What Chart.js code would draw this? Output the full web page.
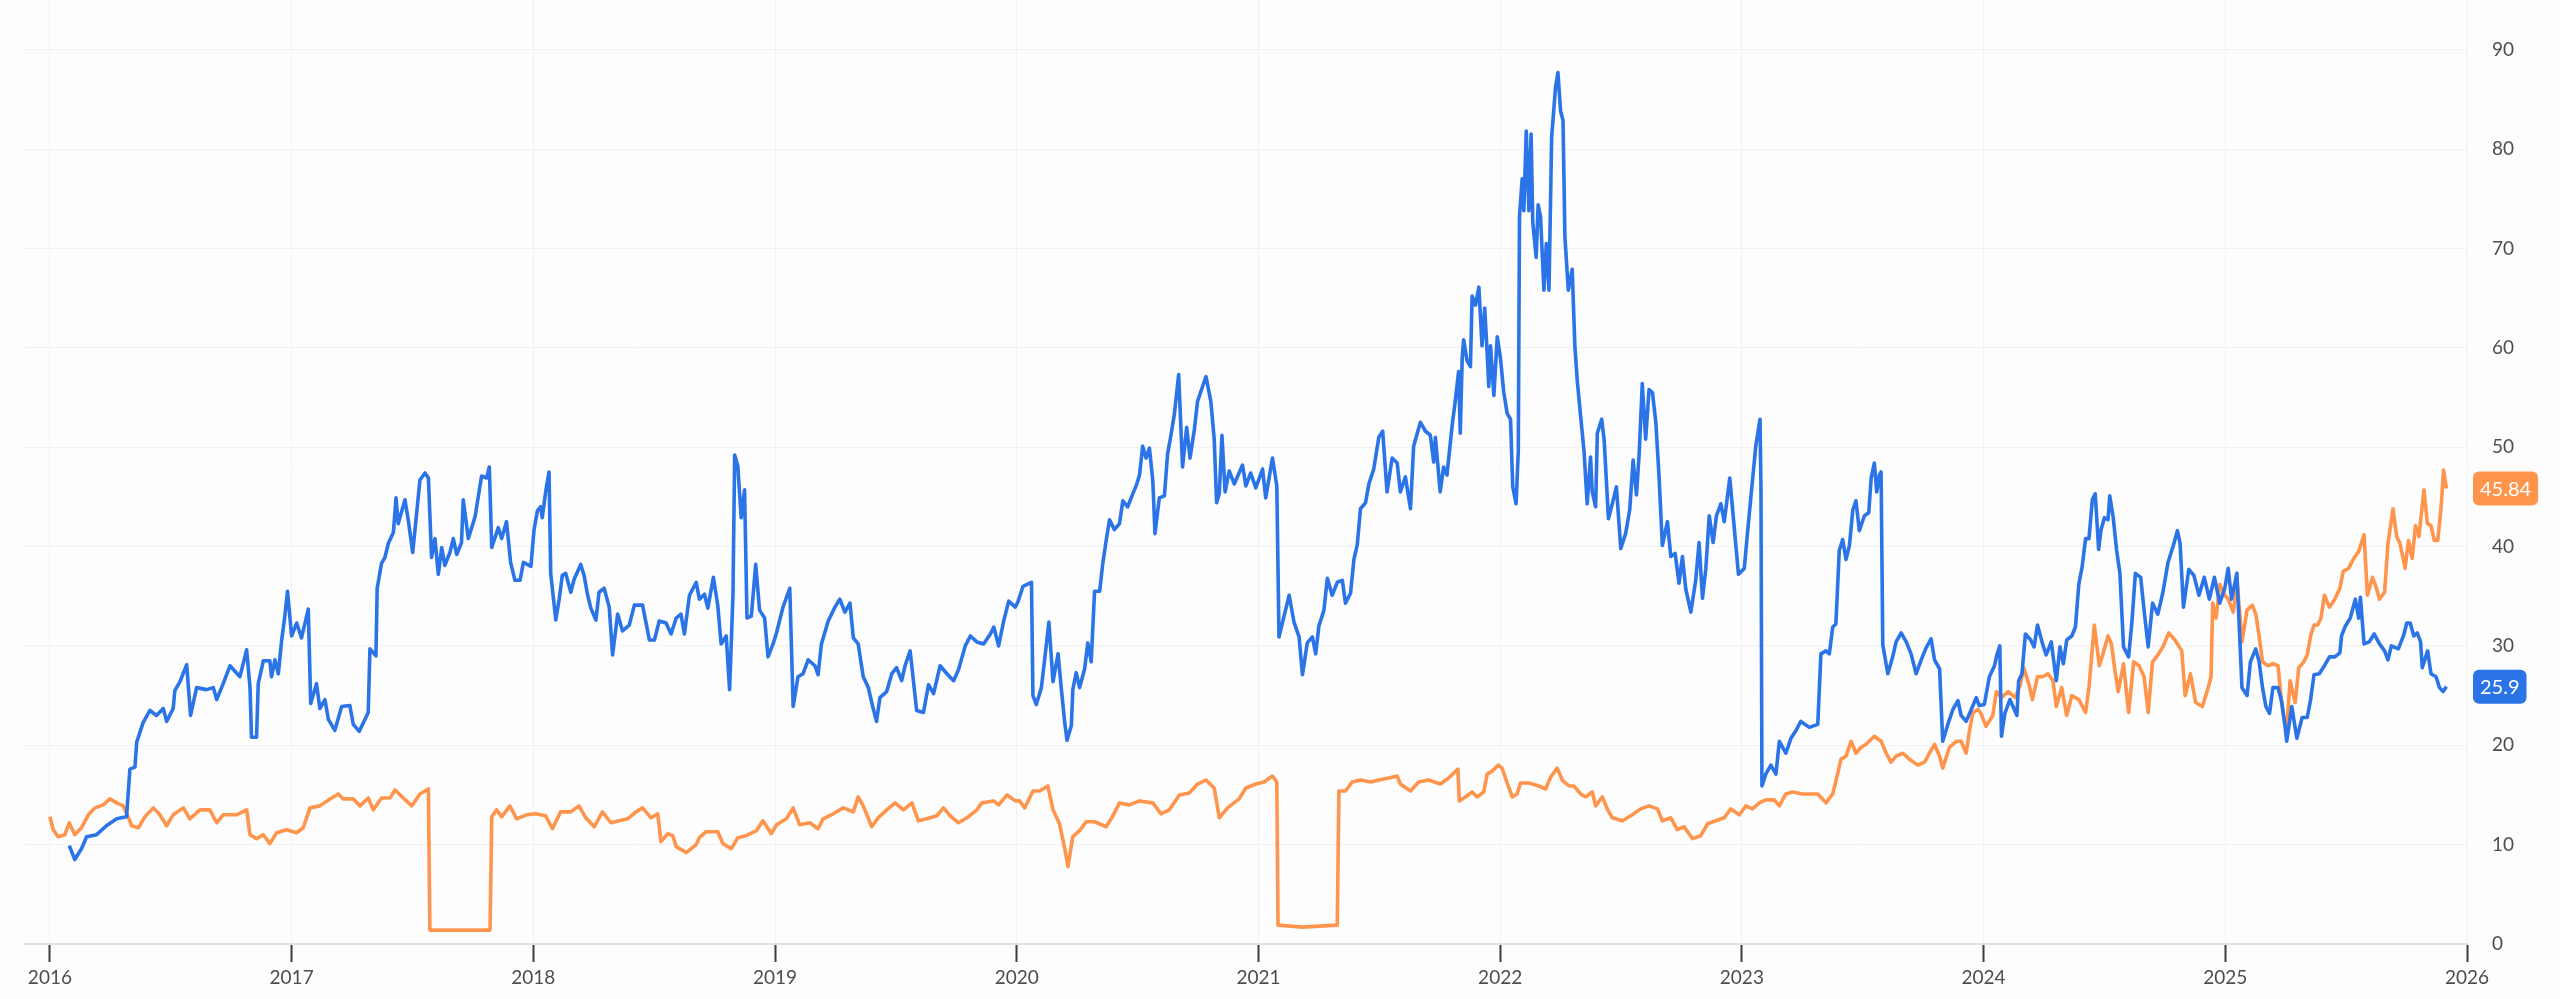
<!DOCTYPE html>
<html>
<head>
<meta charset="utf-8">
<script src="https://cdn.jsdelivr.net/npm/chart.js@4"></script>
<style>
  html, body { margin: 0; padding: 0; background: #fdfdfe; }
  canvas { display: block; }
</style>
</head>
<body>
<canvas id="myChart" width="2560" height="999"></canvas>
<script>
// x = decimal year, y = value
var blueLine = [
  [2016.080, 9.9], [2016.103, 8.5], [2016.131, 9.6], [2016.152, 10.8], [2016.193, 11.0], [2016.234, 11.9],
  [2016.276, 12.6], [2016.317, 12.8], [2016.331, 17.6], [2016.352, 17.8], [2016.359, 20.3], [2016.386, 22.3],
  [2016.414, 23.5], [2016.441, 23.0], [2016.469, 23.7], [2016.483, 22.4], [2016.510, 23.7], [2016.517, 25.5],
  [2016.538, 26.4], [2016.566, 28.1], [2016.582, 23.0], [2016.607, 25.8], [2016.648, 25.6], [2016.676, 25.8],
  [2016.690, 24.6], [2016.717, 26.2], [2016.745, 28.0], [2016.786, 26.9], [2016.814, 29.6], [2016.828, 25.8],
  [2016.834, 20.8], [2016.855, 20.8], [2016.862, 26.2], [2016.883, 28.5], [2016.910, 28.5], [2016.917, 26.9],
  [2016.931, 28.6], [2016.945, 27.2], [2016.959, 30.6], [2016.972, 33.0], [2016.983, 35.5], [2017.000, 31.0],
  [2017.021, 32.3], [2017.041, 30.8], [2017.069, 33.7], [2017.079, 24.2], [2017.103, 26.2], [2017.117, 23.7],
  [2017.138, 24.6], [2017.152, 22.6], [2017.179, 21.5], [2017.207, 23.9], [2017.241, 24.0], [2017.255, 22.1],
  [2017.280, 21.4], [2017.317, 23.3], [2017.324, 29.7], [2017.349, 29.0], [2017.354, 35.8], [2017.372, 38.3],
  [2017.386, 38.9], [2017.400, 40.3], [2017.421, 41.4], [2017.432, 44.9], [2017.441, 42.3], [2017.469, 44.7],
  [2017.483, 42.6], [2017.501, 39.4], [2017.531, 46.7], [2017.552, 47.4], [2017.566, 46.9], [2017.579, 38.9],
  [2017.593, 40.8], [2017.607, 37.2], [2017.621, 39.9], [2017.634, 38.1], [2017.655, 39.4], [2017.669, 40.8],
  [2017.683, 39.2], [2017.703, 40.4], [2017.710, 44.7], [2017.731, 40.8], [2017.759, 43.0], [2017.786, 47.1],
  [2017.807, 46.9], [2017.818, 48.0], [2017.828, 39.9], [2017.855, 41.9], [2017.869, 40.8], [2017.889, 42.5],
  [2017.906, 38.4], [2017.924, 36.6], [2017.945, 36.6], [2017.959, 38.4], [2017.990, 38.0],
  [2018.003, 41.7], [2018.017, 43.6], [2018.030, 44.0], [2018.037, 42.9], [2018.051, 45.5], [2018.065, 47.5],
  [2018.072, 37.3], [2018.093, 32.6], [2018.107, 34.7], [2018.120, 37.1], [2018.134, 37.3], [2018.155, 35.4],
  [2018.169, 36.7], [2018.196, 38.2], [2018.210, 37.1], [2018.224, 35.2], [2018.238, 33.8], [2018.259, 32.6],
  [2018.272, 35.4], [2018.293, 35.8], [2018.314, 33.9], [2018.328, 29.1], [2018.349, 33.2], [2018.369, 31.5],
  [2018.397, 32.1], [2018.418, 34.1], [2018.452, 34.1], [2018.480, 30.6], [2018.501, 30.6], [2018.521, 32.5],
  [2018.549, 32.3], [2018.570, 31.2], [2018.591, 32.8], [2018.611, 33.2], [2018.625, 31.2], [2018.646, 35.1],
  [2018.674, 36.4], [2018.687, 34.7], [2018.708, 35.2], [2018.722, 33.8], [2018.745, 36.9], [2018.763, 34.1],
  [2018.777, 30.2], [2018.798, 31.0], [2018.812, 25.6], [2018.826, 35.1], [2018.833, 49.2], [2018.846, 48.1],
  [2018.860, 42.9], [2018.874, 45.7], [2018.884, 32.8], [2018.902, 33.0], [2018.920, 38.2], [2018.936, 33.6],
  [2018.957, 32.8], [2018.971, 28.9], [2018.992, 30.2], [2019.006, 31.3], [2019.033, 33.9], [2019.061, 35.8],
  [2019.075, 23.9], [2019.095, 26.9], [2019.116, 27.2], [2019.137, 28.6], [2019.165, 28.0], [2019.178, 27.1],
  [2019.192, 30.2], [2019.220, 32.5], [2019.248, 33.9], [2019.268, 34.7], [2019.289, 33.4], [2019.310, 34.3],
  [2019.324, 30.8], [2019.344, 30.2], [2019.365, 26.9], [2019.386, 25.8], [2019.404, 23.9], [2019.420, 22.4],
  [2019.434, 24.8], [2019.462, 25.4], [2019.483, 27.2], [2019.503, 27.8], [2019.524, 26.5], [2019.538, 28.0],
  [2019.559, 29.5], [2019.586, 23.5], [2019.614, 23.3], [2019.635, 26.1], [2019.656, 25.2], [2019.683, 28.0],
  [2019.711, 27.2], [2019.739, 26.5], [2019.759, 27.6], [2019.787, 30.0], [2019.808, 31.0], [2019.835, 30.4],
  [2019.863, 30.2], [2019.891, 31.2], [2019.905, 31.9], [2019.925, 30.0], [2019.946, 32.5], [2019.967, 34.5],
  [2019.994, 33.9],
  [2020.006, 34.5], [2020.026, 36.0], [2020.061, 36.4], [2020.067, 25.0], [2020.081, 24.1], [2020.102, 25.8],
  [2020.122, 30.0], [2020.133, 32.4], [2020.150, 26.4], [2020.171, 29.2], [2020.184, 25.8], [2020.198, 22.4],
  [2020.208, 20.5], [2020.226, 22.0], [2020.232, 25.6], [2020.246, 27.3], [2020.260, 25.8], [2020.281, 27.7],
  [2020.294, 30.3], [2020.308, 28.4], [2020.322, 35.5], [2020.343, 35.5], [2020.356, 38.3], [2020.370, 40.6],
  [2020.384, 42.7], [2020.404, 41.7], [2020.425, 42.3], [2020.439, 44.6], [2020.459, 44.0], [2020.480, 45.3],
  [2020.494, 46.1], [2020.508, 47.2], [2020.521, 50.1], [2020.535, 48.9], [2020.549, 49.9], [2020.563, 46.6],
  [2020.572, 41.3], [2020.590, 44.9], [2020.611, 45.1], [2020.624, 49.3], [2020.638, 51.2], [2020.652, 53.3],
  [2020.670, 57.3], [2020.686, 48.0], [2020.703, 52.0], [2020.717, 48.9], [2020.735, 51.8], [2020.748, 54.6],
  [2020.766, 55.9], [2020.783, 57.1], [2020.803, 54.6], [2020.817, 50.8], [2020.827, 44.4], [2020.838, 45.3],
  [2020.849, 51.2], [2020.862, 45.5], [2020.879, 47.6], [2020.900, 46.3], [2020.934, 48.2], [2020.948, 46.1],
  [2020.968, 47.4], [2020.989, 45.9], [2021.017, 47.8], [2021.030, 44.9], [2021.058, 48.9], [2021.076, 46.1],
  [2021.085, 30.9], [2021.106, 33.0], [2021.127, 35.1], [2021.147, 32.4], [2021.168, 30.9], [2021.182, 27.1],
  [2021.202, 30.3], [2021.223, 30.9], [2021.237, 29.2], [2021.250, 32.0], [2021.271, 33.6], [2021.285, 36.8],
  [2021.305, 35.1], [2021.326, 36.4], [2021.347, 36.6], [2021.360, 34.3], [2021.381, 35.3], [2021.395, 38.7],
  [2021.409, 40.2], [2021.422, 43.8], [2021.443, 44.4], [2021.457, 46.3], [2021.477, 47.8], [2021.498, 51.0],
  [2021.514, 51.6], [2021.532, 45.5], [2021.553, 48.9], [2021.574, 48.4], [2021.587, 45.5], [2021.608, 47.0],
  [2021.629, 43.8], [2021.642, 50.1], [2021.670, 52.5], [2021.691, 51.6], [2021.711, 51.2], [2021.725, 48.5],
  [2021.732, 51.0], [2021.752, 45.5], [2021.766, 48.0], [2021.780, 47.2], [2021.801, 52.1], [2021.814, 54.6],
  [2021.828, 57.6], [2021.835, 51.4],
  [2021.843, 59.0], [2021.849, 60.8], [2021.863, 58.7], [2021.877, 58.1], [2021.884, 65.2], [2021.898, 64.3],
  [2021.912, 66.1], [2021.925, 60.2], [2021.936, 64.0], [2021.946, 59.6], [2021.953, 56.1], [2021.960, 60.2],
  [2021.974, 55.2], [2021.988, 61.1], [2022.001, 59.0], [2022.015, 55.5], [2022.029, 53.4], [2022.043, 52.8],
  [2022.052, 46.0], [2022.066, 44.3], [2022.075, 49.6], [2022.080, 73.2], [2022.091, 77.0], [2022.098, 73.8],
  [2022.108, 81.8], [2022.119, 73.8], [2022.128, 81.5], [2022.135, 72.6], [2022.149, 69.1], [2022.157, 74.4],
  [2022.167, 73.2], [2022.181, 65.8], [2022.191, 70.5], [2022.202, 65.8], [2022.213, 81.2], [2022.229, 86.2],
  [2022.239, 87.7], [2022.250, 83.8], [2022.260, 82.9], [2022.268, 71.1], [2022.282, 65.8], [2022.298, 67.9],
  [2022.309, 60.2], [2022.319, 56.7], [2022.333, 53.1], [2022.347, 49.6], [2022.360, 44.3], [2022.374, 49.0],
  [2022.381, 45.5], [2022.395, 44.0], [2022.402, 51.4], [2022.420, 52.8], [2022.430, 50.8], [2022.448, 42.8],
  [2022.464, 44.3], [2022.481, 46.0], [2022.499, 39.8], [2022.519, 41.3], [2022.536, 43.7], [2022.550, 48.7],
  [2022.564, 45.2], [2022.575, 49.3], [2022.588, 56.4], [2022.602, 50.8], [2022.616, 55.8], [2022.630, 55.5],
  [2022.644, 52.5], [2022.657, 47.2], [2022.671, 40.1], [2022.692, 42.5], [2022.706, 39.0], [2022.724, 39.3],
  [2022.740, 36.3], [2022.754, 39.0], [2022.768, 35.7], [2022.789, 33.4], [2022.809, 36.6], [2022.823, 40.4],
  [2022.837, 34.8], [2022.851, 37.8], [2022.865, 43.1], [2022.881, 40.4], [2022.895, 43.1], [2022.913, 44.3],
  [2022.927, 42.5], [2022.950, 46.9], [2022.964, 43.1], [2022.986, 37.2], [2023.010, 37.8], [2023.023, 41.3],
  [2023.037, 44.9], [2023.058, 50.2], [2023.075, 52.8], [2023.079, 46.0], [2023.083, 15.9], [2023.099, 17.1],
  [2023.120, 18.0], [2023.141, 17.1], [2023.155, 20.4], [2023.182, 19.2], [2023.203, 20.7], [2023.224, 21.5],
  [2023.244, 22.4], [2023.279, 21.8], [2023.314, 22.1], [2023.327, 29.2], [2023.348, 29.5], [2023.362, 29.2],
  [2023.376, 31.9], [2023.389, 32.2], [2023.403, 39.6], [2023.417, 40.7], [2023.431, 38.7], [2023.445, 40.1],
  [2023.459, 43.7], [2023.472, 44.6], [2023.486, 41.6], [2023.507, 43.1], [2023.525, 43.4], [2023.535, 46.9],
  [2023.548, 48.4], [2023.558, 45.5], [2023.569, 47.2], [2023.576, 47.5], [2023.583, 30.1], [2023.604, 27.2],
  [2023.624, 28.9], [2023.638, 30.4], [2023.659, 31.3], [2023.680, 30.4], [2023.700, 29.2], [2023.721, 27.2],
  [2023.742, 28.6], [2023.762, 29.8], [2023.783, 30.7], [2023.797, 28.6], [2023.818, 27.7], [2023.831, 20.4],
  [2023.852, 22.1], [2023.873, 23.6], [2023.894, 24.5], [2023.907, 23.0], [2023.928, 22.4], [2023.949, 23.6],
  [2023.970, 24.8],
  [2023.982, 24.0], [2024.003, 24.1], [2024.024, 26.9], [2024.045, 28.0], [2024.055, 29.1], [2024.067, 30.0],
  [2024.074, 20.9], [2024.088, 23.2], [2024.109, 24.6], [2024.138, 23.0], [2024.145, 26.5], [2024.159, 27.2],
  [2024.173, 31.2], [2024.195, 30.6], [2024.209, 29.9], [2024.223, 32.1], [2024.244, 30.2], [2024.259, 29.1],
  [2024.280, 30.4], [2024.301, 26.5], [2024.316, 29.9], [2024.330, 28.2], [2024.344, 30.6], [2024.365, 31.0],
  [2024.380, 31.9], [2024.394, 36.2], [2024.408, 38.0], [2024.422, 40.8], [2024.436, 40.8], [2024.450, 44.7],
  [2024.462, 45.3], [2024.476, 39.7], [2024.486, 41.7], [2024.500, 42.9], [2024.515, 42.7], [2024.522, 45.1],
  [2024.536, 43.0], [2024.550, 39.7], [2024.564, 37.3], [2024.579, 29.9], [2024.600, 28.9], [2024.614, 32.5],
  [2024.628, 37.3], [2024.650, 36.9], [2024.664, 33.6], [2024.681, 29.9], [2024.699, 34.3], [2024.721, 33.2],
  [2024.742, 35.4], [2024.763, 38.4], [2024.785, 40.1], [2024.802, 41.6], [2024.813, 40.3], [2024.827, 33.9],
  [2024.849, 37.7], [2024.870, 37.1], [2024.891, 35.1], [2024.913, 36.9], [2024.934, 34.7], [2024.955, 36.9],
  [2024.977, 34.3], [2024.998, 35.8], [2025.012, 37.8], [2025.026, 34.7], [2025.048, 37.3], [2025.069, 25.8],
  [2025.090, 25.0], [2025.104, 28.4], [2025.126, 29.7], [2025.140, 28.4], [2025.154, 25.8], [2025.168, 23.9],
  [2025.183, 23.2], [2025.197, 25.8], [2025.218, 25.8], [2025.232, 24.5], [2025.247, 22.0], [2025.254, 20.4],
  [2025.275, 23.9], [2025.296, 20.7], [2025.318, 22.8], [2025.339, 22.8], [2025.353, 24.6], [2025.367, 27.1],
  [2025.389, 27.2], [2025.410, 28.0], [2025.431, 28.9], [2025.453, 28.9], [2025.474, 29.3], [2025.481, 31.0],
  [2025.495, 31.9], [2025.517, 32.8], [2025.538, 34.7], [2025.552, 32.8], [2025.559, 34.9], [2025.574, 30.2],
  [2025.595, 30.4], [2025.616, 31.2], [2025.638, 30.2], [2025.659, 29.5], [2025.673, 28.6], [2025.687, 30.0],
  [2025.716, 29.7], [2025.737, 31.0], [2025.751, 32.3], [2025.765, 32.3], [2025.780, 31.0], [2025.794, 31.3],
  [2025.808, 30.4], [2025.815, 27.8], [2025.837, 29.5], [2025.851, 27.2], [2025.872, 26.9], [2025.886, 25.8],
  [2025.901, 25.4], [2025.915, 25.9]
];

var orangeLine = [
  [2016.000, 12.8], [2016.014, 11.5], [2016.034, 10.8], [2016.062, 11.0], [2016.080, 12.2], [2016.103, 11.0],
  [2016.131, 11.7], [2016.159, 13.0], [2016.186, 13.7], [2016.221, 14.0], [2016.248, 14.6], [2016.276, 14.2],
  [2016.303, 13.9], [2016.324, 12.8], [2016.338, 11.9], [2016.366, 11.7], [2016.393, 12.8], [2016.428, 13.7],
  [2016.455, 13.0], [2016.483, 11.9], [2016.510, 13.0], [2016.552, 13.7], [2016.579, 12.6], [2016.621, 13.5],
  [2016.662, 13.5], [2016.690, 12.2], [2016.717, 13.0], [2016.772, 13.0], [2016.814, 13.5], [2016.828, 11.0],
  [2016.855, 10.6], [2016.883, 11.0], [2016.910, 10.1], [2016.938, 11.2], [2016.979, 11.5], [2017.021, 11.2],
  [2017.048, 11.7], [2017.076, 13.7], [2017.117, 13.9], [2017.159, 14.6], [2017.193, 15.1], [2017.214, 14.6],
  [2017.255, 14.6], [2017.283, 13.9], [2017.317, 14.7], [2017.338, 13.5], [2017.372, 14.7], [2017.407, 14.7],
  [2017.428, 15.5], [2017.462, 14.7], [2017.497, 13.9], [2017.531, 15.1], [2017.566, 15.6], [2017.572, 1.4],
  [2017.669, 1.4], [2017.821, 1.4], [2017.828, 12.8], [2017.848, 13.5], [2017.869, 12.8], [2017.903, 13.9],
  [2017.931, 12.6], [2017.972, 13.0],
  [2018.010, 13.1], [2018.051, 12.9], [2018.079, 11.6], [2018.113, 13.3], [2018.155, 13.3], [2018.189, 13.9],
  [2018.217, 12.7], [2018.252, 11.8], [2018.286, 13.3], [2018.321, 12.2], [2018.355, 12.4], [2018.390, 12.6],
  [2018.425, 13.3], [2018.452, 13.7], [2018.487, 12.7], [2018.515, 13.1], [2018.528, 10.3], [2018.556, 11.1],
  [2018.577, 10.9], [2018.591, 9.8], [2018.632, 9.2], [2018.674, 10.0], [2018.687, 10.7], [2018.715, 11.3],
  [2018.763, 11.3], [2018.784, 10.1], [2018.819, 9.6], [2018.846, 10.7], [2018.881, 10.9], [2018.923, 11.4],
  [2018.950, 12.4], [2018.985, 11.1], [2019.006, 12.0], [2019.047, 12.6], [2019.075, 13.7], [2019.102, 12.0],
  [2019.144, 12.2], [2019.178, 11.6], [2019.199, 12.6], [2019.241, 13.1], [2019.282, 13.7], [2019.324, 13.3],
  [2019.344, 14.8], [2019.365, 13.9], [2019.400, 11.8], [2019.427, 12.7], [2019.462, 13.5], [2019.497, 14.2],
  [2019.531, 13.5], [2019.566, 14.2], [2019.593, 12.4], [2019.628, 12.6], [2019.669, 12.9], [2019.697, 13.7],
  [2019.725, 12.9], [2019.759, 12.2], [2019.794, 12.7], [2019.835, 13.5], [2019.856, 14.2], [2019.905, 14.4],
  [2019.925, 14.0], [2019.960, 15.0], [2019.994, 14.4],
  [2020.012, 14.4], [2020.033, 13.7], [2020.067, 15.4], [2020.095, 15.4], [2020.129, 15.9], [2020.150, 13.5],
  [2020.177, 12.1], [2020.198, 9.7], [2020.212, 7.8], [2020.232, 10.8], [2020.260, 11.4], [2020.287, 12.3],
  [2020.322, 12.3], [2020.370, 11.8], [2020.398, 12.9], [2020.425, 14.2], [2020.466, 14.0], [2020.508, 14.4],
  [2020.563, 14.2], [2020.597, 13.1], [2020.631, 13.5], [2020.673, 15.0], [2020.714, 15.2], [2020.748, 16.1],
  [2020.783, 16.5], [2020.817, 15.7], [2020.838, 12.7], [2020.872, 13.7], [2020.920, 14.6], [2020.948, 15.7],
  [2020.989, 16.1], [2021.023, 16.3], [2021.058, 16.9], [2021.076, 16.3], [2021.081, 1.9], [2021.182, 1.7],
  [2021.326, 1.9], [2021.333, 15.4], [2021.360, 15.4], [2021.388, 16.3], [2021.422, 16.5], [2021.464, 16.3],
  [2021.498, 16.5], [2021.539, 16.7], [2021.574, 16.9], [2021.587, 16.1], [2021.629, 15.4], [2021.663, 16.3],
  [2021.704, 16.5], [2021.752, 16.1], [2021.787, 16.7], [2021.825, 17.6], [2021.831, 14.4],
  [2021.856, 14.8], [2021.884, 15.3], [2021.905, 14.8], [2021.932, 15.3], [2021.946, 17.1], [2021.967, 17.4],
  [2021.992, 18.0], [2022.008, 17.7], [2022.029, 16.2], [2022.050, 14.8], [2022.070, 15.1], [2022.084, 16.2],
  [2022.119, 16.2], [2022.160, 15.9], [2022.188, 15.6], [2022.209, 16.8], [2022.236, 17.7], [2022.257, 16.5],
  [2022.285, 15.9], [2022.305, 15.9], [2022.333, 15.1], [2022.354, 14.8], [2022.381, 15.3], [2022.395, 13.9],
  [2022.423, 14.8], [2022.443, 13.6], [2022.464, 12.7], [2022.506, 12.4], [2022.547, 13.0], [2022.581, 13.6],
  [2022.616, 13.9], [2022.651, 13.6], [2022.671, 12.4], [2022.706, 12.7], [2022.733, 11.5], [2022.761, 11.8],
  [2022.796, 10.6], [2022.830, 10.9], [2022.858, 12.1], [2022.892, 12.4], [2022.927, 12.7], [2022.954, 13.6],
  [2022.989, 13.0], [2023.017, 13.9], [2023.044, 13.6], [2023.072, 14.2], [2023.099, 14.5], [2023.134, 14.5],
  [2023.155, 13.9], [2023.182, 15.1], [2023.210, 15.3], [2023.251, 15.1], [2023.279, 15.1], [2023.314, 15.1],
  [2023.348, 14.2], [2023.376, 15.1], [2023.396, 17.1], [2023.410, 18.6], [2023.431, 18.9], [2023.452, 20.4],
  [2023.472, 19.2], [2023.493, 19.8], [2023.514, 20.1], [2023.548, 20.9], [2023.576, 20.4], [2023.597, 19.2],
  [2023.617, 18.3], [2023.638, 18.9], [2023.666, 19.2], [2023.693, 18.6], [2023.728, 18.0], [2023.756, 18.3],
  [2023.776, 19.2], [2023.797, 20.1], [2023.818, 18.9], [2023.831, 17.7], [2023.859, 19.8], [2023.887, 20.4],
  [2023.907, 20.4], [2023.928, 19.2], [2023.942, 21.5], [2023.956, 23.3], [2023.977, 23.6],
  [2023.989, 23.2], [2024.010, 21.9], [2024.038, 23.0], [2024.053, 25.4], [2024.074, 24.8], [2024.102, 25.4],
  [2024.131, 24.8], [2024.152, 26.1], [2024.166, 27.8], [2024.188, 26.1], [2024.202, 24.6], [2024.223, 26.9],
  [2024.244, 26.9], [2024.266, 27.2], [2024.287, 26.5], [2024.301, 23.9], [2024.323, 25.8], [2024.344, 23.0],
  [2024.365, 25.0], [2024.394, 24.6], [2024.422, 23.3], [2024.436, 25.8], [2024.458, 32.1], [2024.479, 28.0],
  [2024.493, 29.1], [2024.515, 31.0], [2024.529, 30.2], [2024.543, 27.6], [2024.557, 25.4], [2024.579, 28.2],
  [2024.600, 23.3], [2024.621, 28.4], [2024.643, 28.0], [2024.664, 26.9], [2024.681, 23.3], [2024.699, 28.4],
  [2024.721, 29.1], [2024.742, 29.9], [2024.766, 31.3], [2024.792, 30.6], [2024.820, 29.5], [2024.834, 25.0],
  [2024.856, 27.2], [2024.877, 24.3], [2024.905, 23.9], [2024.927, 25.6], [2024.941, 26.9], [2024.948, 34.3],
  [2024.962, 32.8], [2024.977, 36.2], [2024.998, 35.1], [2025.012, 34.7], [2025.033, 33.4], [2025.050, 36.2],
  [2025.069, 30.4], [2025.090, 33.6], [2025.112, 34.1], [2025.126, 33.2], [2025.140, 31.0], [2025.154, 28.4],
  [2025.176, 28.0], [2025.197, 28.2], [2025.218, 28.0], [2025.232, 24.6], [2025.247, 22.0], [2025.254, 21.5],
  [2025.268, 26.5], [2025.289, 24.3], [2025.304, 27.8], [2025.325, 28.4], [2025.339, 29.1], [2025.353, 31.0],
  [2025.367, 32.1], [2025.382, 32.1], [2025.396, 32.8], [2025.410, 35.1], [2025.431, 33.9], [2025.453, 34.7],
  [2025.474, 35.8], [2025.488, 37.5], [2025.510, 37.8], [2025.531, 38.8], [2025.552, 39.5], [2025.574, 41.2],
  [2025.588, 35.1], [2025.609, 36.9], [2025.623, 36.0], [2025.638, 34.7], [2025.659, 35.4], [2025.673, 40.3],
  [2025.694, 43.8], [2025.709, 41.0], [2025.723, 40.3], [2025.744, 37.8], [2025.758, 40.6], [2025.773, 38.8],
  [2025.787, 42.1], [2025.801, 41.0], [2025.822, 45.7], [2025.836, 42.3], [2025.851, 42.1], [2025.865, 40.6],
  [2025.879, 40.6], [2025.893, 44.0], [2025.903, 47.7], [2025.915, 45.84]
];

var yearTicks = [2016, 2017, 2018, 2019, 2020, 2021, 2022, 2023, 2024, 2025, 2026];
var valueTicks = [0, 10, 20, 30, 40, 50, 60, 70, 80, 90];

var blueColor = '#2b74e7';
var orangeColor = '#ff954c';
var fontFamily = 'Lato, "Open Sans", sans-serif';

var ctx = document.getElementById('myChart').getContext('2d');

// coloured tag with the last value, right of the plot
var lastValueTags = {
  id: 'lastValueTags',
  afterDraw: function (chart) {
    var c = chart.ctx;
    var yScale = chart.scales.y;
    var left = chart.chartArea.right + 6;
    c.save();
    c.font = '20px ' + fontFamily;
    c.textBaseline = 'middle';
    c.textAlign = 'left';
    chart.data.datasets.forEach(function (ds) {
      var last = ds.data[ds.data.length - 1];
      var text = String(last[1]);
      var y = yScale.getPixelForValue(last[1]);
      var w = c.measureText(text).width + 14;
      var h = 34;
      c.fillStyle = ds.borderColor;
      c.beginPath();
      c.roundRect(left, y - h / 2, w, h, 6);
      c.fill();
      c.fillStyle = '#ffffff';
      c.fillText(text, left + 7, y + 1);
    });
    c.restore();
  }
};

var myChart = new Chart(ctx, {
  type: 'line',
  data: {
    datasets: [{
      label: 'blue',
      data: blueLine,
      borderColor: blueColor,
      backgroundColor: blueColor,
      borderWidth: 3.6,
      borderJoinStyle: 'round',
      pointRadius: 0,
      tension: 0
    }, {
      label: 'orange',
      data: orangeLine,
      borderColor: orangeColor,
      backgroundColor: orangeColor,
      borderWidth: 3.6,
      borderJoinStyle: 'round',
      pointRadius: 0,
      tension: 0
    }]
  },
  options: {
    responsive: false,
    animation: false,
    events: [],
    layout: {
      padding: { left: 25, right: 0, top: 0, bottom: 0 }
    },
    plugins: {
      legend: { display: false },
      tooltip: { enabled: false }
    },
    scales: {
      x: {
        type: 'linear',
        min: 2015.897,
        max: 2026,
        afterBuildTicks: function (scale) {
          scale.ticks = yearTicks.map(function (v) { return { value: v }; });
        },
        afterFit: function (scale) {
          scale.height = 55;
          scale.paddingLeft = 0;
          scale.paddingRight = 0;
        },
        grid: {
          color: '#f2f2f5',
          lineWidth: 1,
          tickColor: '#3c3c3c',
          tickWidth: 2,
          tickLength: 18
        },
        border: { color: '#dfdfe7', width: 2 },
        ticks: {
          autoSkip: false,
          maxRotation: 0,
          padding: 4,
          color: '#4d4d4d',
          font: { family: fontFamily, size: 19 },
          callback: function (v) { return String(v); }
        }
      },
      y: {
        type: 'linear',
        position: 'right',
        min: 0,
        max: 95,
        afterBuildTicks: function (scale) {
          scale.ticks = valueTicks.map(function (v) { return { value: v }; });
        },
        afterFit: function (scale) {
          scale.width = 93;
          scale.paddingTop = 0;
          scale.paddingBottom = 0;
        },
        grid: {
          color: '#f2f2f5',
          lineWidth: 1,
          drawTicks: false
        },
        border: { display: false },
        ticks: {
          padding: 25,
          color: '#4d4d4d',
          font: { family: fontFamily, size: 19 }
        }
      }
    }
  },
  plugins: [lastValueTags]
});
</script>
</body>
</html>
